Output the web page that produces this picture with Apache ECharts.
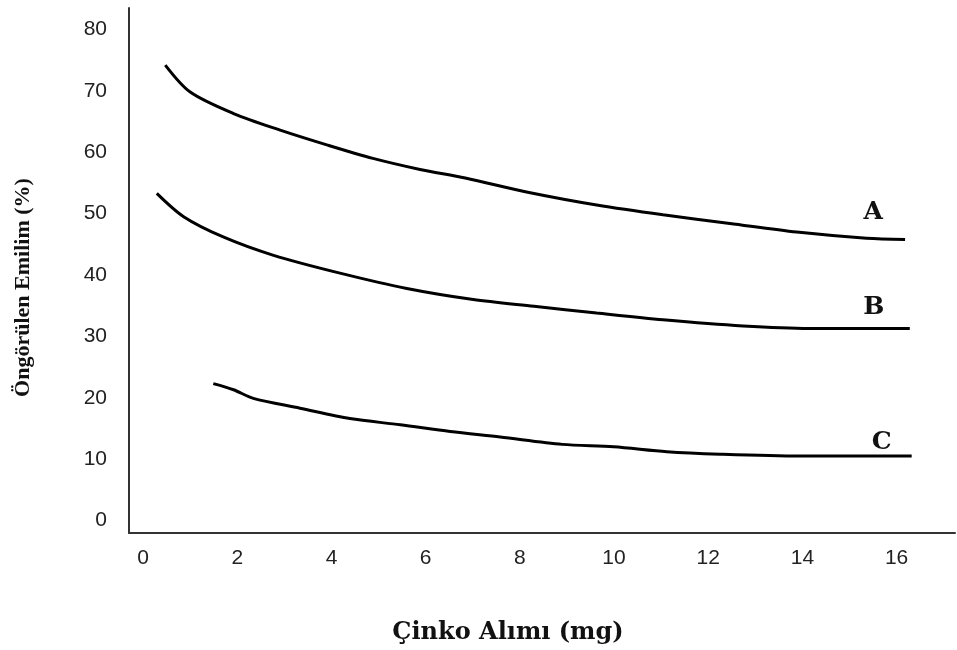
<!DOCTYPE html>
<html>
<head>
<meta charset="utf-8">
<script src="https://cdn.jsdelivr.net/npm/echarts@6/dist/echarts.min.js"></script>
<style>html,body{margin:0;padding:0;background:#fff}#c{width:957px;height:650px}</style>
</head>
<body>
<div id="c"></div>
<script>
var xTicks = [0, 2, 4, 6, 8, 10, 12, 14, 16];
var yTicks = [0, 10, 20, 30, 40, 50, 60, 70, 80];
var curveA = [[0.47,74.2],[1.0,69.8],[1.92,66.3],[2.91,63.6],[3.9,61.2],[4.88,59.0],[5.88,57.2],[6.84,55.8],[8.22,53.4],[9.63,51.4],[11.04,49.8],[12.46,48.4],[13.88,47.0],[15.36,46.0],[16.18,45.8]];
var curveB = [[0.29,53.3],[0.86,49.5],[1.7,46.2],[2.77,43.2],[4.18,40.3],[5.6,37.8],[7.01,36.0],[8.3,34.9],[9.63,33.8],[11.04,32.7],[12.74,31.7],[14.16,31.3],[16.28,31.3]];
var curveC = [[1.49,22.3],[1.92,21.3],[2.34,19.9],[3.33,18.3],[4.39,16.6],[5.46,15.6],[6.52,14.5],[7.58,13.6],[8.9,12.4],[9.99,12.0],[11.12,11.2],[12.25,10.8],[13.95,10.5],[16.32,10.5]];
var seriesNames = ['A', 'B', 'C'];
var xTitle = 'Çinko Alımı (mg)';
var yTitle = 'Öngörülen Emilim (%)';

var chart = echarts.init(document.getElementById('c'), null, {renderer: 'canvas'});
function mk(name, data, off) {
  return {
    name: name, type: 'line', data: data, smooth: 0.3, showSymbol: false, symbol: 'none',
    lineStyle: {color: '#000', width: 3}, animation: false,
    endLabel: {show: true, formatter: name, offset: off, align: 'center', verticalAlign: 'middle',
      fontFamily: 'DejaVu Serif', fontWeight: 'bold', fontSize: 25, color: '#111'}
  };
}
chart.setOption({
  animation: false,
  grid: {left: 129, top: 8, right: 2, bottom: 117},
  xAxis: {
    type: 'value', min: -0.3, max: 17.24,
    axisLine: {show: true, onZero: false, lineStyle: {color: '#333', width: 2}},
    axisTick: {show: false}, splitLine: {show: false},
    axisLabel: {customValues: xTicks, fontFamily: 'Liberation Sans', fontSize: 21, color: '#222', margin: 15},
    name: xTitle, nameLocation: 'middle', nameGap: 88,
    nameTextStyle: {fontFamily: 'DejaVu Serif', fontWeight: 'bold', fontSize: 24, color: '#111', padding: [0, 68, 0, 0]}
  },
  yAxis: {
    type: 'value', min: -2.04, max: 83.5,
    axisLine: {show: true, onZero: false, lineStyle: {color: '#333', width: 2}},
    axisTick: {show: false}, splitLine: {show: false},
    axisLabel: {customValues: yTicks, fontFamily: 'Liberation Sans', fontSize: 21, color: '#222', margin: 22},
    name: yTitle, nameLocation: 'middle', nameGap: 95,
    nameTextStyle: {fontFamily: 'Liberation Serif', fontWeight: 'bold', fontSize: 22, color: '#111', padding: [0, 34, 0, 0]}
  },
  series: [
    mk(seriesNames[0], curveA, [-40, -27]),
    mk(seriesNames[1], curveB, [-44, -21]),
    mk(seriesNames[2], curveC, [-38, -14])
  ]
});
</script>
</body>
</html>
